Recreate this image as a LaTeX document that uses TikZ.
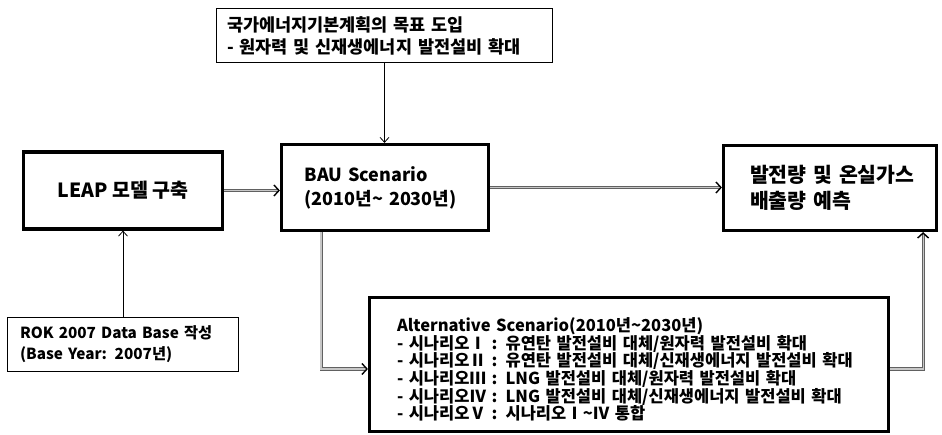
\documentclass[tikz,border=0pt]{standalone}
\usepackage{fontspec}
\setmainfont{Noto Sans CJK KR}
\usetikzlibrary{positioning, arrows.meta}

\begin{document}
\begin{tikzpicture}[x=1pt, y=-1pt,
    block/.style={draw=black, line width=3.2pt, fill=white, inner sep=0pt},
    note/.style={draw=black, line width=1.2pt, fill=white, inner sep=0pt},
    flow/.style={draw=black!62, double=black!22, double distance=1.2pt, line width=0.9pt,
      -{Straight Barb[length=5pt, width=11pt, line width=1.4pt, black]}},
    feed/.style={draw=black, line width=0.8pt, -{Straight Barb[length=5pt, width=9pt]}}
  ]
  \useasboundingbox (0,0) rectangle (942,435);

  % -- main chain --
  \node[block, minimum width=199pt, minimum height=77pt,
    font=\fontsize{19.5}{22}\selectfont\bfseries] (leap) at (123,190.5) {LEAP 모델 구축};
  \node[block, minimum width=207pt, minimum height=86pt, text width=161pt, align=left,
    font=\fontsize{18}{24}\selectfont\bfseries] (bau) at (385,187.5)
    {BAU Scenario\\(2010년\textasciitilde{} 2030년)};
  \node[block, minimum width=213pt, minimum height=85pt, text width=160pt, align=left,
    font=\fontsize{20.5}{26}\selectfont\bfseries] (out) at (830,188)
    {발전량~및~온실가스\\배출량~예측};

  % -- inputs --
  \node[note, minimum width=336pt, minimum height=54pt, text width=315pt, align=left,
    font=\fontsize{17.5}{22}\selectfont\bfseries] (goal) at (384.5,35.5)
    {국가에너지기본계획의 목표 도입\\- 원자력 및 신재생에너지 발전설비 확대};
  \node[note, minimum width=231pt, minimum height=54pt, text width=206pt, align=left,
    font=\fontsize{15.3}{21}\selectfont\bfseries] (rok) at (123,344.5)
    {ROK 2007 Data Base 작성\\(Base Year: 2007년)};

  % -- alternative scenarios (strut pushes the text block down a little) --
  \node[block, minimum width=519pt, minimum height=134pt, text width=464pt, align=left,
    font=\fontsize{16.5}{17.6}\selectfont\bfseries] (alt) at (629,364.5)
    {\rule{0pt}{24pt}Alternative Scenario(2010년\textasciitilde 2030년)\\
     - 시나리오Ⅰ : 유연탄 발전설비 대체/원자력 발전설비 확대\\
     - 시나리오Ⅱ : 유연탄 발전설비 대체/신재생에너지 발전설비 확대\\
     - 시나리오Ⅲ : LNG 발전설비 대체/원자력 발전설비 확대\\
     - 시나리오Ⅳ : LNG 발전설비 대체/신재생에너지 발전설비 확대\\
     - 시나리오Ⅴ : 시나리오Ⅰ\textasciitilde Ⅳ 통합};

  % -- connectors --
  \draw[flow] (leap.east) -- (leap.east -| bau.west);
  \draw[flow] (bau.east) -- (bau.east -| out.west);
  \draw[feed] (goal.south) -- (goal.south |- bau.north);
  \draw[feed] (rok.north) -- (rok.north |- leap.south);
  \draw[flow] ([xshift=-64pt]bau.south) |- ([yshift=-4.5pt]alt.west);
  \draw[flow] ([yshift=-4.5pt]alt.east) -| ([xshift=-15pt]out.south east);
\end{tikzpicture}
\end{document}
